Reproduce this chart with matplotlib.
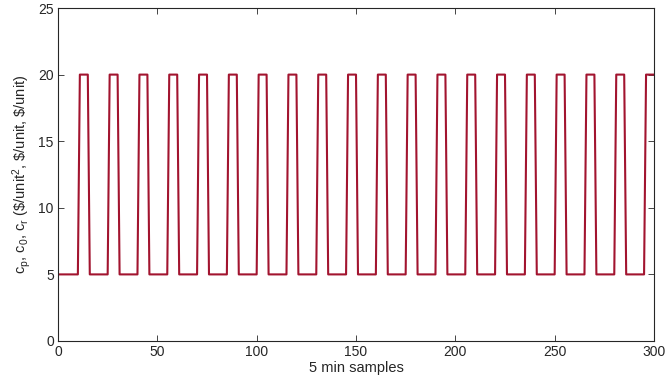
import numpy as np
import matplotlib
matplotlib.use("Agg")
import matplotlib.pyplot as plt

plt.rcParams['font.family'] = ['Liberation Sans', 'DejaVu Sans']
plt.rcParams['mathtext.default'] = 'regular'

# samples 0..300
samples = list(range(0, 301))
price = [5,
    5, 5, 5, 5, 5, 5, 5, 5, 5, 5, 20, 20, 20, 20, 20,
    5, 5, 5, 5, 5, 5, 5, 5, 5, 5, 20, 20, 20, 20, 20,
    5, 5, 5, 5, 5, 5, 5, 5, 5, 5, 20, 20, 20, 20, 20,
    5, 5, 5, 5, 5, 5, 5, 5, 5, 5, 20, 20, 20, 20, 20,
    5, 5, 5, 5, 5, 5, 5, 5, 5, 5, 20, 20, 20, 20, 20,
    5, 5, 5, 5, 5, 5, 5, 5, 5, 5, 20, 20, 20, 20, 20,
    5, 5, 5, 5, 5, 5, 5, 5, 5, 5, 20, 20, 20, 20, 20,
    5, 5, 5, 5, 5, 5, 5, 5, 5, 5, 20, 20, 20, 20, 20,
    5, 5, 5, 5, 5, 5, 5, 5, 5, 5, 20, 20, 20, 20, 20,
    5, 5, 5, 5, 5, 5, 5, 5, 5, 5, 20, 20, 20, 20, 20,
    5, 5, 5, 5, 5, 5, 5, 5, 5, 5, 20, 20, 20, 20, 20,
    5, 5, 5, 5, 5, 5, 5, 5, 5, 5, 20, 20, 20, 20, 20,
    5, 5, 5, 5, 5, 5, 5, 5, 5, 5, 20, 20, 20, 20, 20,
    5, 5, 5, 5, 5, 5, 5, 5, 5, 5, 20, 20, 20, 20, 20,
    5, 5, 5, 5, 5, 5, 5, 5, 5, 5, 20, 20, 20, 20, 20,
    5, 5, 5, 5, 5, 5, 5, 5, 5, 5, 20, 20, 20, 20, 20,
    5, 5, 5, 5, 5, 5, 5, 5, 5, 5, 20, 20, 20, 20, 20,
    5, 5, 5, 5, 5, 5, 5, 5, 5, 5, 20, 20, 20, 20, 20,
    5, 5, 5, 5, 5, 5, 5, 5, 5, 5, 20, 20, 20, 20, 20,
    5, 5, 5, 5, 5, 5, 5, 5, 5, 5, 20, 20, 20, 20, 20,
]
xticks = [0, 50, 100, 150, 200, 250, 300]
yticks = [0, 5, 10, 15, 20, 25]

fig = plt.figure(figsize=(6.65, 3.79), dpi=100)
ax = fig.add_axes([58/665, 1 - 341/379, (654-58)/665, (341-8)/379])
ax.plot(samples, price, color='#A2142F', linewidth=1.5)
ax.set_xlim(0, 300)
ax.set_ylim(0, 25)
ax.set_xticks(xticks)
ax.set_yticks(yticks)
ax.tick_params(direction='in', top=True, right=True, length=4, width=0.6,
               labelsize=10, colors='#262626', pad=3)
for s in ax.spines.values():
    s.set_linewidth(0.8)
    s.set_color('#262626')
ax.set_xlabel('5 min samples', fontsize=10.5, color='#262626', labelpad=1)
ax.set_ylabel(r'c$_p$, c$_0$, c$_r$ (\$/unit$^2$, \$/unit, \$/unit)',
              fontsize=10.5, color='#262626', labelpad=4)
fig.savefig('out.png', dpi=100)
